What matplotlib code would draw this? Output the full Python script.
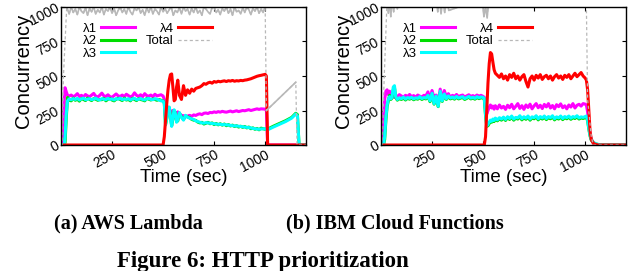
import numpy as np
import matplotlib.pyplot as plt

plt.rcParams['font.family'] = ['Liberation Sans', 'DejaVu Sans']

# ----------------- AWS Lambda (left panel) -----------------
aws_time = [0, 12, 16, 20, 26, 32,
            40, 50, 60, 70, 80, 90, 100, 110, 120, 130,
            140, 150, 160, 170, 180, 190, 200, 210, 220, 230,
            240, 250, 260, 270, 280, 290, 300, 310, 320, 330,
            340, 350, 360, 370, 380, 390, 400, 410, 420, 430,
            440, 450, 460, 470, 480, 490, 500,
            506, 512, 518, 524, 530, 536, 542, 548, 554, 560, 566, 572,
            580, 590, 600, 610, 620, 630, 640, 650, 660, 670,
            680, 690, 700, 710, 720, 730, 740, 750, 760, 770,
            780, 790, 800, 810, 820, 830, 840, 850, 860, 870,
            880, 890, 900, 910, 920, 930, 940, 950, 960, 970,
            980, 1000, 1006, 1012, 1040, 1070, 1100, 1130, 1150, 1158, 1166, 1200]

aws_l1 = [0, 0, 330, 415, 385, 360,
          355, 362, 350, 358, 372, 352, 360, 348, 366, 356,
          350, 362, 374, 354, 348, 360, 376, 356, 352, 364,
          350, 346, 358, 370, 356, 352, 362, 350, 368, 358,
          348, 356, 378, 360, 352, 364, 350, 372, 358, 354,
          362, 350, 368, 356, 360, 364, 355,
          330, 200, 250, 275, 270, 240, 225, 250, 245, 225, 230, 240,
          225, 215, 212, 205, 210, 215, 208, 218, 214, 222,
          226, 220, 230, 232, 228, 236, 234, 240, 236, 242,
          238, 244, 240, 238, 242, 246, 240, 244, 248, 242,
          246, 250, 248, 252, 256, 250, 254, 258, 262, 258,
          262, 260, 255, 0, 0, 0, 0, 0, 0, 0, 0, 0]

aws_l2 = [0, 0, 0, 20, 200, 345,
          325, 320, 340, 324, 332, 318, 336, 330, 322, 340,
          330, 322, 336, 332, 324, 330, 328, 338, 320, 332,
          336, 326, 320, 332, 338, 330, 322, 340, 326, 330,
          320, 338, 330, 322, 336, 330, 326, 320, 338, 332,
          326, 334, 330, 324, 330, 324, 320,
          305, 150, 190, 250, 270, 215, 140, 190, 250, 235, 170, 175,
          230, 205, 185, 210, 205, 198, 186, 180, 178, 166,
          160, 164, 152, 158, 164, 154, 160, 148, 156, 146,
          154, 144, 152, 140, 148, 138, 144, 134, 140, 130,
          136, 128, 134, 124, 130, 118, 124, 114, 120, 110,
          122, 114, 116, 115, 136, 156, 176, 200, 230, 220, 0, 0]

aws_l3 = [0, 0, 0, 60, 230, 320,
          334, 328, 336, 330, 338, 326, 334, 340, 328, 332,
          336, 328, 332, 340, 330, 326, 336, 332, 328, 338,
          330, 334, 326, 336, 332, 340, 328, 334, 330, 336,
          326, 334, 338, 328, 332, 336, 330, 326, 334, 338,
          330, 328, 336, 332, 326, 320, 318,
          300, 145, 200, 260, 275, 200, 135, 200, 255, 230, 165, 180,
          235, 200, 180, 215, 200, 195, 190, 185, 175, 170,
          165, 160, 158, 162, 160, 158, 156, 154, 152, 150,
          150, 148, 148, 146, 145, 142, 140, 138, 138, 136,
          134, 132, 130, 128, 126, 124, 120, 118, 116, 114,
          116, 118, 112, 110, 130, 150, 170, 195, 225, 210, 0, 0]

aws_l4 = [0, 0, 0, 0, 0, 0,
          0, 0, 0, 0, 0, 0, 0, 0, 0, 0,
          0, 0, 0, 0, 0, 0, 0, 0, 0, 0,
          0, 0, 0, 0, 0, 0, 0, 0, 0, 0,
          0, 0, 0, 0, 0, 0, 0, 0, 0, 0,
          0, 0, 0, 0, 0, 0, 0,
          60, 180, 300, 400, 470, 510, 515, 420, 320, 330, 420, 470,
          360, 330, 430, 360, 400, 375, 405, 390, 410, 415,
          420, 430, 445, 440, 450, 455, 448, 460, 455, 462,
          458, 462, 465, 460, 466, 463, 468, 462, 466, 464,
          468, 466, 470, 472, 476, 480, 486, 492, 498, 502,
          505, 512, 500, 0, 0, 0, 0, 0, 0, 0, 0, 0]

aws_total_time = [0, 6, 12, 28] + list(range(30, 1001, 10)) + [1006, 1150, 1156, 1200]
aws_total = [0, 0, 500, 1000,
             990, 950, 1000, 960, 985, 945, 1000, 970, 955, 995,
             940, 990, 965, 1000, 950, 980, 960, 1000, 945, 985,
             970, 1000, 955, 990, 940, 975, 1000, 960, 985, 950,
             1000, 965, 945, 990, 975, 1000, 955, 980, 940, 995,
             960, 1000, 950, 985, 970, 945, 1000, 965, 990, 955,
             980, 1000, 940, 975, 960, 995, 950, 1000, 970, 985,
             945, 990, 960, 1000, 955, 975, 940, 1000, 985, 965,
             950, 995, 1000, 960, 980, 945, 990, 970, 1000, 955,
             985, 940, 1000, 965, 975, 950, 995, 960, 1000, 980,
             945, 990, 970, 1000, 955, 985, 960, 1000,
             250, 455, 0, 0]

# ----------------- IBM Cloud Functions (right panel) -----------------
ibm_time = [0, 6, 12, 18, 24, 30, 36, 42, 48, 54,
            60, 66, 72, 80, 90, 100, 110, 120, 130, 140,
            150, 160, 170, 180, 190, 200, 210, 220, 230, 240,
            250, 260, 270, 280, 290, 300, 310, 320, 330, 340,
            350, 360, 370, 380, 390, 400, 410, 420, 430, 440,
            450, 460, 470, 480, 490, 500, 506, 512, 518, 524,
            530, 536, 542, 548, 554, 560, 570, 580, 590, 600,
            610, 620, 630, 640, 650, 660, 670, 680, 690, 700,
            710, 720, 730, 740, 750, 760, 770, 780, 790, 800,
            810, 820, 830, 840, 850, 860, 870, 880, 890, 900,
            910, 920, 930, 940, 950, 960, 970, 980, 990, 1000,
            1006, 1012, 1018, 1024, 1030, 1040, 1050, 1065, 1080, 1200]

ibm_l1 = [0, 0, 180, 330, 390, 400, 365, 390, 350, 370,
          355, 345, 360, 350, 365, 355, 348, 360, 352, 366,
          350, 358, 346, 362, 354, 348, 360, 356, 385, 330,
          395, 340, 362, 312, 405, 330, 395, 350, 372, 345,
          360, 352, 366, 350, 358, 362, 348, 356, 364, 352,
          358, 350, 362, 354, 360, 352, 345, 260, 225, 250,
          275, 290, 268, 282, 260, 285, 262, 290, 268, 280,
          258, 288, 270, 295, 262, 280, 300, 265, 285, 258,
          290, 272, 296, 262, 284, 300, 270, 288, 264, 294,
          276, 300, 268, 286, 262, 292, 278, 298, 270, 284,
          262, 290, 275, 300, 268, 288, 295, 282, 300, 296,
          290, 240, 150, 80, 40, 15, 5, 0, 0, 0]

ibm_l2 = [0, 0, 0, 40, 180, 280, 320, 360, 330, 340,
          400, 415, 345, 325, 336, 330, 340, 326, 338, 332,
          340, 328, 336, 332, 344, 330, 338, 334, 352, 314,
          366, 296, 348, 278, 380, 316, 362, 330, 350, 334,
          342, 332, 346, 334, 340, 344, 330, 338, 346, 334,
          340, 332, 344, 336, 342, 340, 332, 215, 135, 140,
          155, 172, 165, 180, 170, 188, 175, 190, 180, 195,
          178, 198, 185, 202, 180, 194, 188, 204, 182, 198,
          186, 202, 180, 196, 190, 204, 182, 198, 188, 202,
          184, 198, 190, 204, 182, 196, 188, 202, 184, 198,
          190, 202, 186, 198, 192, 204, 188, 196, 192, 198,
          204, 175, 115, 65, 35, 18, 8, 3, 0, 0]

ibm_l3 = [0, 0, 0, 60, 200, 290, 330, 350, 335, 345,
          420, 430, 350, 330, 342, 336, 348, 332, 344, 338,
          346, 334, 342, 338, 350, 336, 344, 340, 360, 320,
          375, 300, 355, 280, 390, 320, 370, 335, 356, 340,
          348, 338, 352, 340, 346, 350, 336, 344, 352, 340,
          346, 338, 350, 342, 348, 345, 338, 220, 140, 150,
          165, 180, 172, 188, 178, 195, 182, 198, 188, 202,
          185, 205, 192, 210, 188, 200, 196, 212, 190, 205,
          194, 210, 188, 204, 198, 212, 190, 206, 196, 210,
          192, 206, 198, 212, 190, 204, 196, 210, 192, 206,
          198, 210, 194, 206, 200, 212, 196, 204, 200, 206,
          210, 180, 120, 70, 40, 20, 10, 4, 0, 0]

ibm_l4 = [0, 0, 0, 0, 0, 0, 0, 0, 0, 0,
          0, 0, 0, 0, 0, 0, 0, 0, 0, 0,
          0, 0, 0, 0, 0, 0, 0, 0, 0, 0,
          0, 0, 0, 0, 0, 0, 0, 0, 0, 0,
          0, 0, 0, 0, 0, 0, 0, 0, 0, 0,
          0, 0, 0, 0, 0, 0, 0, 60, 250, 450,
          590, 670, 660, 600, 545, 520, 505, 490, 515, 480,
          500, 470, 510, 490, 520, 480, 500, 470, 495, 510,
          460, 420, 480, 500, 470, 505, 485, 510, 475, 495,
          505, 480, 500, 470, 495, 510, 485, 500, 475, 505,
          490, 510, 480, 500, 520, 495, 510, 525, 500, 485,
          470, 400, 250, 100, 40, 12, 5, 0, 0, 0]

ibm_total_time = [0, 5, 16, 30, 36, 42, 48, 54, 62, 70,
                  80, 90, 270, 278, 286, 294, 302, 312, 322, 332,
                  496, 504, 512, 520, 528, 1000, 1006, 1012, 1030, 1040,
                  1200]
ibm_total = [0, 0, 500, 1060, 955, 1060, 930, 1060, 965, 1060,
             985, 1060, 1060, 965, 1060, 950, 1060, 960, 1060, 975,
             1060, 930, 1000, 920, 1060, 1060, 1000, 330, 60, 0,
             0]

labels = ['λ1', 'λ2', 'λ3', 'λ4']
colors = ['#ff00ff', '#00dd00', '#00ffff', '#ff0000']
grey = '#b8b8b8'


def draw_panel(ax, t, series, tt, tot, solid_ranges):
    for vals, c, lab in zip(series, colors, labels):
        ax.plot(t, vals, color=c, lw=2.2, label=lab)
    tt = np.array(tt)
    tot = np.array(tot)
    ax.plot(tt, tot, color=grey, lw=0.9, ls=(0, (2.5, 2)), label='Total')
    # dense parts of the total look solid in the original
    for lo, hi in solid_ranges:
        m = (tt >= lo) & (tt <= hi)
        ax.plot(tt[m], tot[m], color=grey, lw=1.2)

    ax.set_xlim(0, 1200)
    ax.set_ylim(0, 1000)
    ax.set_xticks([250, 500, 750, 1000])
    ax.set_yticks([0, 250, 500, 750, 1000])
    ax.tick_params(direction='in', length=3, top=True, right=True,
                   labelsize=10, pad=2, width=0.8)
    for lab in ax.get_xticklabels():
        lab.set_rotation(28)
        lab.set_ha('right')
        lab.set_va('top')
        lab.set_rotation_mode('anchor')
    for lab in ax.get_yticklabels():
        lab.set_rotation(28)
        lab.set_ha('right')
        lab.set_va('center')
        lab.set_rotation_mode('anchor')
    for sp in ax.spines.values():
        sp.set_linewidth(1.0)
        sp.set_zorder(5)

    ax.set_xlabel('Time (sec)', fontsize=13.5)
    ax.xaxis.set_label_coords(0.5, -0.175)
    ax.set_ylabel('Concurrency', fontsize=14.5)
    ax.yaxis.set_label_coords(-0.115, 0.54)

    ax.legend(ncol=2, loc='upper left', bbox_to_anchor=(0.09, 0.885),
              frameon=False, fontsize=9.5, markerfirst=False,
              handlelength=2.6, handletextpad=0.3, columnspacing=0.8,
              labelspacing=0.0, borderpad=0, borderaxespad=0)


fig = plt.figure(figsize=(6.29, 2.71), dpi=100)
ax1 = fig.add_axes([61 / 629, 126 / 271, 245 / 629, 138 / 271])
ax2 = fig.add_axes([381 / 629, 126 / 271, 245 / 629, 138 / 271])

draw_panel(ax1, aws_time, [aws_l1, aws_l2, aws_l3, aws_l4],
           aws_total_time, aws_total, [(28, 1000), (1006, 1150)])
draw_panel(ax2, ibm_time, [ibm_l1, ibm_l2, ibm_l3, ibm_l4],
           ibm_total_time, ibm_total, [(30, 1000)])

cap = dict(family=['Liberation Serif', 'DejaVu Serif'], fontweight='bold',
           fontsize=14.5, ha='center', va='baseline')
fig.text(128 / 629, 43 / 271, '(a) AWS Lambda', **cap)
fig.text(395 / 629, 43 / 271, '(b) IBM Cloud Functions', **cap)
fig.text(263 / 629, 4 / 271, 'Figure 6: HTTP prioritization',
         **dict(cap, fontsize=16.5))

plt.savefig('out.png', dpi=100)
